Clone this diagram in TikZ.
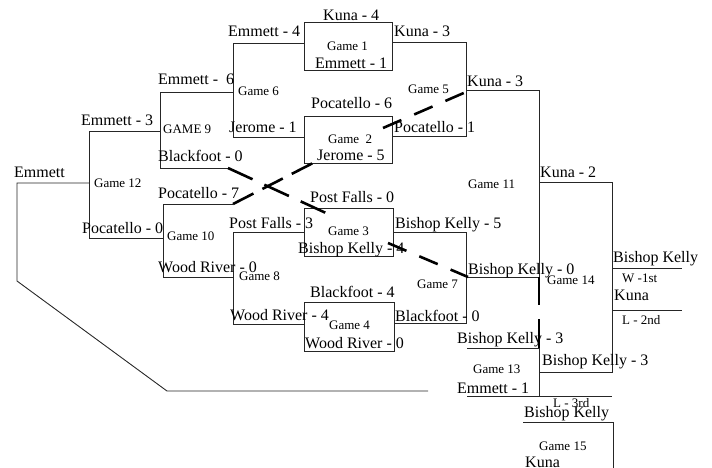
\documentclass[tikz,border=0pt]{standalone}
\usepackage{fontspec}
\setmainfont{Liberation Serif}

\begin{document}
\begin{tikzpicture}[
    x=1pt, y=-1pt,
    team/.style={font=\fontsize{16}{16}\selectfont, anchor=base west, inner sep=0pt},
    game/.style={font=\fontsize{13}{13}\selectfont, anchor=base west, inner sep=0pt},
    bracket/.style={line width=0.9pt, black!85},
    heavy/.style={line width=2.6pt},
    fix/.style={line width=2.6pt, dash pattern=on 27pt off 13pt},
    fixshort/.style={line width=2.6pt, dash pattern=on 20pt off 14pt}
]
\useasboundingbox (0,0) rectangle (712,467);

% first round boxes
\draw[bracket] (304,22) rectangle (392,70);
\draw[bracket] (304,116) rectangle (392,163);
\draw[bracket] (304,208) rectangle (393,256);
\draw[bracket] (304,302) rectangle (394,351);

% left half
\draw[bracket] (304,43) -- (233,43) -- (233,137) -- (304,137);
\draw[bracket] (233,92) -- (160,92) -- (160,168) -- (228,168);
\draw[bracket] (160,131) -- (89,131) -- (89,238) -- (163,238);
\draw[bracket] (89,183) -- (17,183) -- (17,281) -- (167,391) -- (428,391);
\draw[bracket] (233,204) -- (163,204) -- (163,277) -- (233,277);
\draw[bracket] (304,232) -- (233,232) -- (233,324) -- (304,324);

% right half
\draw[bracket] (392,42) -- (466,42) -- (466,136) -- (392,136);
\draw[bracket] (466,90) -- (539,90) -- (539,305);
\draw[bracket] (393,232) -- (466,232) -- (466,323) -- (394,323);
\draw[bracket] (466,277) -- (539,277);
\draw[bracket] (539,182) -- (612,182) -- (612,372) -- (539,372);
\draw[bracket] (467,348) -- (539,348) (539,319) -- (539,396) (467,396) -- (612,396);
\draw[bracket] (612,268) -- (682,268) (612,310) -- (682,310);
\draw[bracket] (523,422) -- (613,422) -- (613,470);
\draw[heavy] (539,277) -- (539,305) (539,319) -- (539,348);

% corrections (broken where they pass the boxes)
\draw[fix] (228,168) -- (326,213);
\draw[fixshort] (388,243) -- (468,277);
\draw[fix, dash pattern=on 23pt off 10pt] (233,204) -- (313,163);
\draw[fixshort] (383,128) -- (466,92);

% game 1 to 4
\node[team] (g1a) at (323,20) {Kuna - 4};
\node[game] (g1) at (327,50) {Game 1};
\node[team] (g1b) at (315,68) {Emmett - 1};
\node[team] (g2a) at (311,108) {Pocatello - 6};
\node[game] (g2) at (328,143) {Game\ \ 2};
\node[team] (g2b) at (317,160) {Jerome - 5};
\node[team] (g3a) at (310,202) {Post Falls - 0};
\node[game] (g3) at (328,235) {Game 3};
\node[team] (g3b) at (298,253) {Bishop Kelly - 4};
\node[team] (g4a) at (310,297) {Blackfoot - 4};
\node[game] (g4) at (329,329) {Game 4};
\node[team] (g4b) at (305,348) {Wood River - 0};

% left games
\node[team] (g6a) at (228,36) {Emmett - 4};
\node[game] (g6) at (238,95) {Game 6};
\node[team] (g6b) at (229,132) {Jerome - 1};
\node[team] (g9a) at (158,84) {Emmett -\ \ 6};
\node[game] (g9) at (163,133) {GAME 9};
\node[team] (g9b) at (158,161) {Blackfoot - 0};
\node[team] (g12a) at (81,125) {Emmett - 3};
\node[game] (g12) at (94,187) {Game 12};
\node[team] (g12b) at (82,233) {Pocatello - 0};
\node[team] (champ) at (14,177) {Emmett};
\node[team] (g10a) at (158,198) {Pocatello - 7};
\node[game] (g10) at (167,240) {Game 10};
\node[team] (g10b) at (158,272) {Wood River - 0};
\node[team] (g8a) at (229,228) {Post Falls - 3};
\node[game] (g8) at (239,280) {Game 8};
\node[team] (g8b) at (230,320) {Wood River - 4};

% right games
\node[team] (g5a) at (394,36) {Kuna - 3};
\node[game] (g5) at (408,93) {Game 5};
\node[team] (g5b) at (394,132) {Pocatello - 1};
\node[team] (g11a) at (467,86) {Kuna - 3};
\node[game] (g11) at (468,188) {Game 11};
\node[team] (g14a) at (540,177) {Kuna - 2};
\node[team] (g7a) at (395,228) {Bishop Kelly - 5};
\node[game] (g7) at (417,288) {Game 7};
\node[team] (g7b) at (395,321) {Blackfoot - 0};
\node[team] (g11b) at (468,274) {Bishop Kelly - 0};
\node[game] (g14) at (547,284) {Game 14};
\node[team] (g13a) at (457,343) {Bishop Kelly - 3};
\node[game] (g13) at (473,373) {Game 13};
\node[team] (g13b) at (457,393) {Emmett - 1};
\node[team] (g14b) at (542,365) {Bishop Kelly - 3};
\node[team] (first) at (613,262) {Bishop Kelly};
\node[game] (firstl) at (622,282) {W -1st};
\node[team] (second) at (614,300) {Kuna};
\node[game] (secondl) at (622,324) {L - 2nd};
\node[game] (thirdl) at (553,407) {L - 3rd};
\node[team] (g15a) at (524,417) {Bishop Kelly};
\node[game] (g15) at (539,450) {Game 15};
\node[team] (g15b) at (525,467) {Kuna};
\end{tikzpicture}
\end{document}
